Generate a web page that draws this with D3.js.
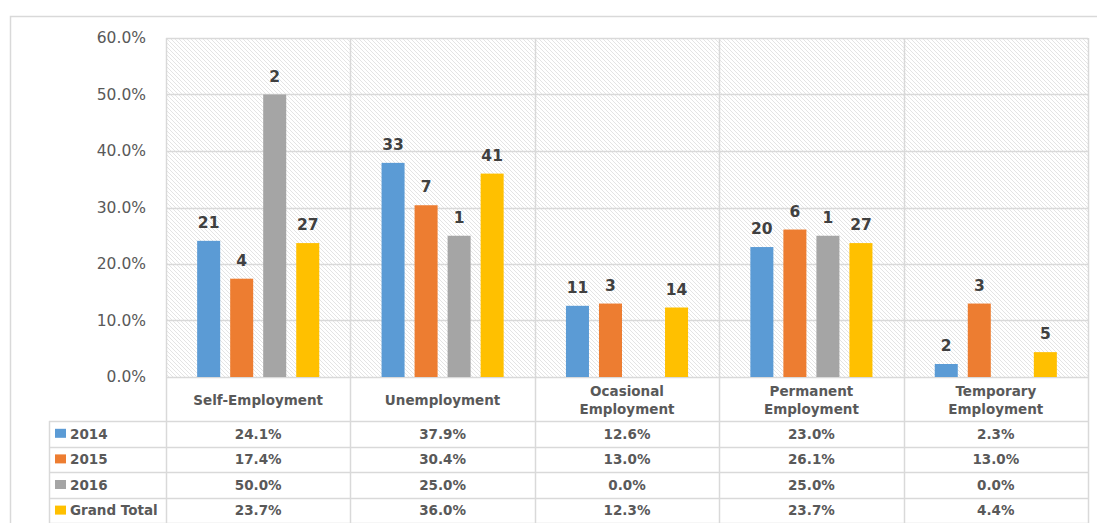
<!DOCTYPE html>
<html>
<head>
<meta charset="utf-8">
<script src="https://cdn.jsdelivr.net/npm/d3@7"></script>
<style>
  html, body { margin: 0; padding: 0; background: #fff; }
  svg { display: block; font-family: 'DejaVu Sans', sans-serif; }
</style>
</head>
<body>
<svg id="chart" width="1097" height="523"></svg>
<script>
// chart data
const categories = ['Self-Employment', 'Unemployment', 'Ocasional Employment', 'Permanent Employment', 'Temporary Employment']
const categoryLines = [['Self-Employment'], ['Unemployment'], ['Ocasional', 'Employment'], ['Permanent', 'Employment'], ['Temporary', 'Employment']]
const seriesNames = ['2014', '2015', '2016', 'Grand Total']
const colors = ['#5b9bd5', '#ed7d31', '#a5a5a5', '#ffc000']

const pct2014 = [0.241, 0.379, 0.126, 0.230, 0.023]
const pct2015 = [0.174, 0.304, 0.130, 0.261, 0.130]
const pct2016 = [0.500, 0.250, 0.000, 0.250, 0.000]
const pctTotal = [0.237, 0.360, 0.123, 0.237, 0.044]

const count2014 = [21, 33, 11, 20, 2]
const count2015 = [4, 7, 3, 6, 3]
const count2016 = [2, 1, null, 1, null]
const countTotal = [27, 41, 14, 27, 5]

const yTicks = [0, 0.1, 0.2, 0.3, 0.4, 0.5, 0.6]

const percents = [pct2014, pct2015, pct2016, pctTotal]
const counts = [count2014, count2015, count2016, countTotal]

const svg = d3.select('#chart')
const margin = { left: 166, right: 9, top: 38 }
const plotBottom = 377
const tableTop = 421
const rowH = 25.6
const legendLeft = 49
const width = 1097 - margin.right
const gridColor = '#d9d9d9'
const fmt = d3.format('.1%')

// outer frame
svg.append('rect')
  .attr('x', 10.5).attr('y', 16.5)
  .attr('width', 1100).attr('height', 520)
  .attr('fill', 'none').attr('stroke', gridColor).attr('stroke-width', 1.5)

// hatch pattern
const defs = svg.append('defs')
defs.append('pattern')
  .attr('id', 'hatch')
  .attr('patternUnits', 'userSpaceOnUse')
  .attr('width', 4).attr('height', 4)
  .append('path')
  .attr('d', 'M-1,-1 L5,5 M3,-1 L5,1 M-1,3 L1,5')
  .attr('stroke', '#e4e4e4')
  .attr('stroke-width', 1)

const x0 = d3.scaleBand().domain(categories).range([margin.left, width]).paddingInner(0).paddingOuter(0)
const x1 = d3.scaleBand().domain(seriesNames).range([-66, 66]).paddingInner(0.303).paddingOuter(0.15)
const y = d3.scaleLinear().domain([0, 0.6]).range([plotBottom, margin.top])

// plot background
svg.append('rect')
  .attr('x', margin.left).attr('y', margin.top)
  .attr('width', width - margin.left).attr('height', plotBottom - margin.top)
  .attr('fill', 'url(#hatch)')

// horizontal gridlines
svg.append('g')
  .selectAll('line')
  .data(yTicks)
  .join('line')
  .attr('x1', margin.left).attr('x2', width)
  .attr('y1', (d) => Math.round(y(d)) + 0.5).attr('y2', (d) => Math.round(y(d)) + 0.5)
  .attr('stroke', gridColor).attr('stroke-width', 1.5)

// y-axis labels
svg.append('g')
  .selectAll('text')
  .data(yTicks)
  .join('text')
  .attr('x', 146)
  .attr('y', (d) => y(d))
  .attr('dy', '0.35em')
  .attr('text-anchor', 'end')
  .attr('font-size', '15.5px')
  .attr('fill', '#595959')
  .text((d) => fmt(d))

// vertical column lines (plot + table)
const colEdges = categories.map((c) => x0(c)).concat([width])
svg.append('g')
  .selectAll('line')
  .data(colEdges)
  .join('line')
  .attr('x1', (d) => Math.round(d) + 0.5).attr('x2', (d) => Math.round(d) + 0.5)
  .attr('y1', margin.top).attr('y2', 523)
  .attr('stroke', gridColor).attr('stroke-width', 1.5)

// bars
const barData = []
percents.forEach((arr, s) => {
  arr.forEach((v, i) => {
    barData.push({ series: seriesNames[s], cat: categories[i], value: v, count: counts[s][i], color: colors[s] })
  })
})

svg.append('g')
  .selectAll('rect')
  .data(barData.filter((d) => d.value > 0))
  .join('rect')
  .attr('x', (d) => x0(d.cat) + x0.bandwidth() / 2 + x1(d.series))
  .attr('y', (d) => y(d.value))
  .attr('width', x1.bandwidth())
  .attr('height', (d) => plotBottom - y(d.value))
  .attr('fill', (d) => d.color)

// count labels
svg.append('g')
  .selectAll('text')
  .data(barData.filter((d) => d.count !== null))
  .join('text')
  .attr('x', (d) => x0(d.cat) + x0.bandwidth() / 2 + x1(d.series) + x1.bandwidth() / 2)
  .attr('y', (d) => y(d.value) - 13)
  .attr('text-anchor', 'middle')
  .attr('font-size', '15.5px')
  .attr('font-weight', 'bold')
  .attr('fill', '#404040')
  .text((d) => d.count)

// data table: horizontal lines
const rowLines = d3.range(seriesNames.length + 1).map((i) => tableTop + i * rowH)
svg.append('g')
  .selectAll('line')
  .data(rowLines)
  .join('line')
  .attr('x1', legendLeft).attr('x2', width)
  .attr('y1', (d) => Math.round(d) + 0.5).attr('y2', (d) => Math.round(d) + 0.5)
  .attr('stroke', gridColor).attr('stroke-width', 1.5)

svg.append('line')
  .attr('x1', legendLeft + 0.5).attr('x2', legendLeft + 0.5)
  .attr('y1', tableTop).attr('y2', 523)
  .attr('stroke', gridColor).attr('stroke-width', 1.5)

// category header labels
const headerMid = (plotBottom + tableTop) / 2 + 1
categories.forEach((c, i) => {
  const lines = categoryLines[i]
  const t = svg.append('text')
    .attr('text-anchor', 'middle')
    .attr('font-size', '13.5px')
    .attr('font-weight', 'bold')
    .attr('fill', '#595959')
  lines.forEach((ln, j) => {
    t.append('tspan')
      .attr('x', x0(c) + x0.bandwidth() / 2)
      .attr('y', headerMid + (j - (lines.length - 1) / 2) * 18)
      .attr('dy', '0.35em')
      .text(ln)
  })
})

// legend cells + values
seriesNames.forEach((name, s) => {
  const cy = tableTop + s * rowH + rowH / 2
  svg.append('rect')
    .attr('x', 55).attr('y', cy - 5)
    .attr('width', 11).attr('height', 9)
    .attr('fill', colors[s])
  svg.append('text')
    .attr('x', 70).attr('y', cy)
    .attr('dy', '0.35em')
    .attr('font-size', '13.5px')
    .attr('font-weight', 'bold')
    .attr('fill', '#595959')
    .text(name)
  svg.append('g')
    .selectAll('text')
    .data(percents[s])
    .join('text')
    .attr('x', (d, i) => x0(categories[i]) + x0.bandwidth() / 2)
    .attr('y', cy)
    .attr('dy', '0.35em')
    .attr('text-anchor', 'middle')
    .attr('font-size', '13.5px')
    .attr('font-weight', 'bold')
    .attr('fill', '#595959')
    .text((d) => fmt(d))
})
</script>
</body>
</html>
